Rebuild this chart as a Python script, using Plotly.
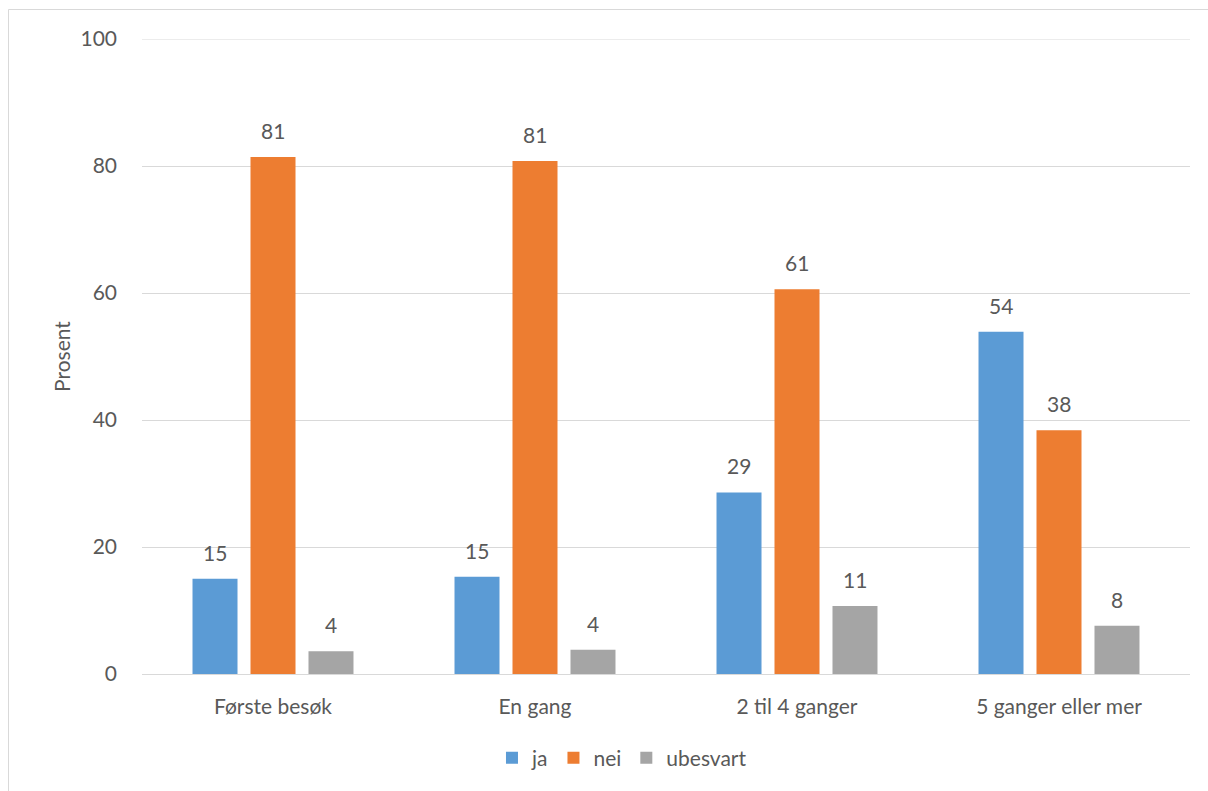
import plotly.graph_objects as go

categories = ["Første besøk", "En gang", "2 til 4 ganger", "5 ganger eller mer"]
ja = [15.0, 15.3, 28.6, 53.9]
nei = [81.4, 80.8, 60.6, 38.4]
ubesvart = [3.6, 3.8, 10.7, 7.6]
series_names = ["ja", "nei", "ubesvart"]
y_ticks = [0, 20, 40, 60, 80, 100]

colors = ["#5B9BD5", "#ED7D31", "#A5A5A5"]
FONT = "Lato"
FS = 21
TXT = "#595959"
GRID = "#d9d9d9"

fig = go.Figure()
for name, vals, col in zip(series_names, [ja, nei, ubesvart], colors):
    fig.add_trace(go.Bar(x=categories, y=vals, name=name, marker_color=col,
                         marker_line_width=0))

# data labels as annotations above each bar
slot_px = 58
for k, vals in enumerate([ja, nei, ubesvart]):
    for c, v in zip(categories, vals):
        fig.add_annotation(x=c, y=v, text=f"{v:.0f}", showarrow=False,
                           xref="x", yref="y", xshift=(k - 1) * slot_px,
                           yanchor="bottom", yshift=12,
                           font=dict(family=FONT, size=FS, color=TXT))

W, H = 1208, 791
L, R, T, B = 142, 18, 39, 117
pw, ph = W - L - R, H - T - B

# outer chart border
fig.add_shape(type="rect", xref="paper", yref="paper",
              x0=(8.5 - L) / pw, x1=(W + 20 - L) / pw,
              y0=(H - B - (H + 20)) / ph, y1=(H - B - 9.5) / ph,
              line=dict(color=GRID, width=1), fillcolor="rgba(0,0,0,0)", layer="below")
# top gridline at the range end
fig.add_shape(type="line", xref="paper", yref="y", x0=0, x1=1,
              y0=y_ticks[-1], y1=y_ticks[-1], line=dict(color=GRID, width=1), layer="below")

fig.update_layout(
    width=W, height=H,
    margin=dict(l=L, r=R, t=T, b=B, autoexpand=False),
    paper_bgcolor="white", plot_bgcolor="white",
    barmode="group", bargap=0.336, bargroupgap=0.224,
    font=dict(family=FONT, size=FS, color=TXT),
    showlegend=True,
    legend=dict(orientation="h", x=0.458, xanchor="center",
                yref="container", y=(H - 758) / H, yanchor="middle",
                font=dict(family=FONT, size=FS, color=TXT), traceorder="normal",
                itemwidth=30),
    xaxis=dict(showgrid=False, showline=True, linecolor=GRID, linewidth=1,
               ticks="", ticklabelstandoff=14, automargin=False,
               tickfont=dict(family=FONT, size=FS, color=TXT)),
    yaxis=dict(range=[0, 100], tickvals=y_ticks, showgrid=True, gridcolor=GRID,
               gridwidth=1, zeroline=False, showline=False, ticks="",
               ticklabelstandoff=24, automargin=False,
               tickfont=dict(family=FONT, size=FS, color=TXT),
               title=dict(text="Prosent", font=dict(family=FONT, size=FS, color=TXT),
                          standoff=4)),
)

fig.write_html("out.html", config={"displayModeBar": False},
               post_script="document.body.style.margin='0';document.body.style.overflow='hidden';")
